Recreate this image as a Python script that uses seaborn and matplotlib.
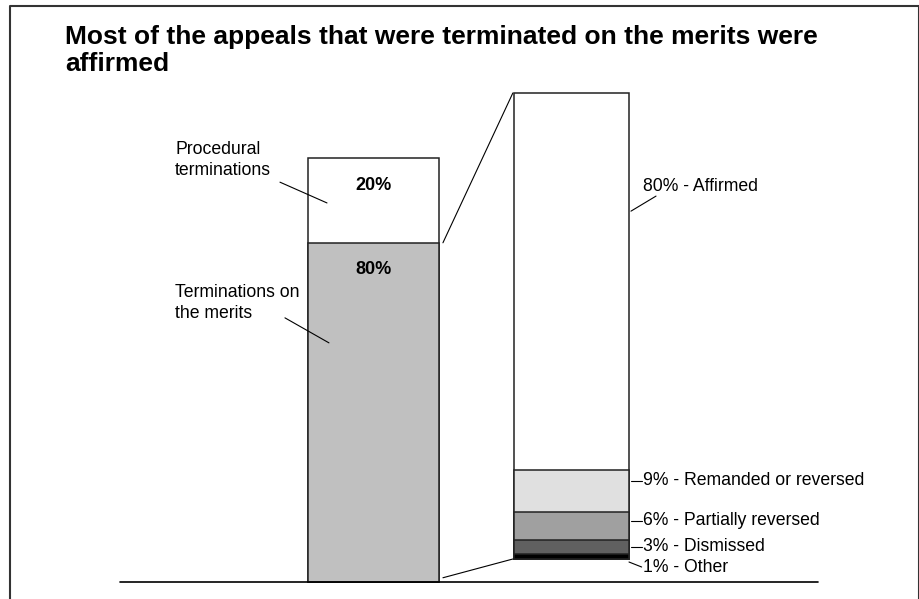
import numpy as np
import pandas as pd
import matplotlib
matplotlib.use("Agg")
import matplotlib.pyplot as plt
from matplotlib.lines import Line2D
from matplotlib.patches import ConnectionPatch
import seaborn as sns

# Data
left_labels = ["Terminations on the merits", "Procedural terminations"]
left_values = [80, 20]
left_colors = ["#c0c0c0", "#ffffff"]

right_labels = ["Other", "Dismissed", "Partially reversed", "Remanded or reversed", "Affirmed"]
right_values = [1, 3, 6, 9, 80]
right_colors = ["#000000", "#606060", "#a0a0a0", "#e0e0e0", "#ffffff"]

sns.set_theme(style="white")
plt.rcParams["font.family"] = ["Liberation Sans", "DejaVu Sans"]
plt.rcParams["text.color"] = "black"

W, H = 920, 599
fig = plt.figure(figsize=(W / 100, H / 100), dpi=100)


def px_axes(x0, y0, x1, y1):
    # axes placed by pixel box (top-left origin)
    return fig.add_axes([x0 / W, 1 - y1 / H, (x1 - x0) / W, (y1 - y0) / H])


def stacked_bar(ax, values, colors):
    # draw cumulative totals from the largest down so the layers stack
    cum = np.cumsum(values)
    for total, col in reversed(list(zip(cum, colors))):
        df = pd.DataFrame({"cat": ["a"], "val": [total]})
        sns.barplot(data=df, x="cat", y="val", color=col, width=1,
                    edgecolor="#222222", linewidth=1.1, saturation=1, ax=ax)
    for p in ax.patches:
        p.set_clip_on(False)
    ax.set_xlim(-0.5, 0.5)
    ax.axis("off")
    return cum


axL = px_axes(308, 158, 439, 582)
cumL = stacked_bar(axL, left_values, left_colors)
axL.set_ylim(0, cumL[-1])

axR = px_axes(514, 93, 629, 559)
cumR = stacked_bar(axR, right_values, right_colors)
axR.set_ylim(0, cumR[-1])

# percentages inside the left bar
for top, v in zip(cumL, left_values):
    axL.text(0, top - 6.4, f"{v}%", ha="center", va="center",
             fontsize=13, fontweight="bold")

# left side labels with leaders
axL.text(-1.515, 99.5, "Procedural\nterminations", ha="left", va="center",
         fontsize=12.7, linespacing=1.3, clip_on=False)
axL.plot([-0.714, -0.355], [94.3, 89.4], color="black", lw=0.8, clip_on=False)
axL.text(-1.515, 65.8, "Terminations on\nthe merits", ha="left", va="center",
         fontsize=12.7, linespacing=1.3, clip_on=False)
axL.plot([-0.676, -0.34], [62.3, 56.4], color="black", lw=0.8, clip_on=False)

# right side labels
lbl_y = [-1.7, 2.6, 8.1, 16.6, 79.2]
for lab, v, y in zip(right_labels, right_values, lbl_y):
    axR.text(0.622, y, f"{v}% - {lab}", ha="left", va="center",
             fontsize=12.7, clip_on=False)
# leaders
axR.plot([0.517, 0.735], [73.9, 77.1], color="black", lw=0.8, clip_on=False)
for y in lbl_y[1:4]:
    axR.plot([0.517, 0.61], [y, y], color="black", lw=0.8, clip_on=False)
axR.plot([0.5, 0.61], [-0.64, -1.7], color="black", lw=0.8, clip_on=False)

# connectors between the two bars
for yA, yB in [(cumL[0], cumR[-1]), (1, 0)]:
    con = ConnectionPatch(xyA=(0.53, yA), coordsA=axL.transData,
                          xyB=(-0.51, yB), coordsB=axR.transData,
                          color="black", lw=0.8)
    fig.add_artist(con)

# baseline
fig.add_artist(Line2D([120 / W, 818 / W], [1 - 582 / H, 1 - 582 / H],
                      color="black", lw=1.2))

# frame around the figure (no bottom edge)
fig.add_artist(Line2D([10 / W, 10 / W, 919 / W, 919 / W],
                      [0, 1 - 5.5 / H, 1 - 5.5 / H, 0], color="#333333", lw=1.5))

# title
fig.text(65 / W, 1 - 25 / H,
         "Most of the appeals that were terminated on the merits were\naffirmed",
         ha="left", va="top", fontsize=19, fontweight="bold", linespacing=1.15)

fig.savefig("out.png", dpi=100)
